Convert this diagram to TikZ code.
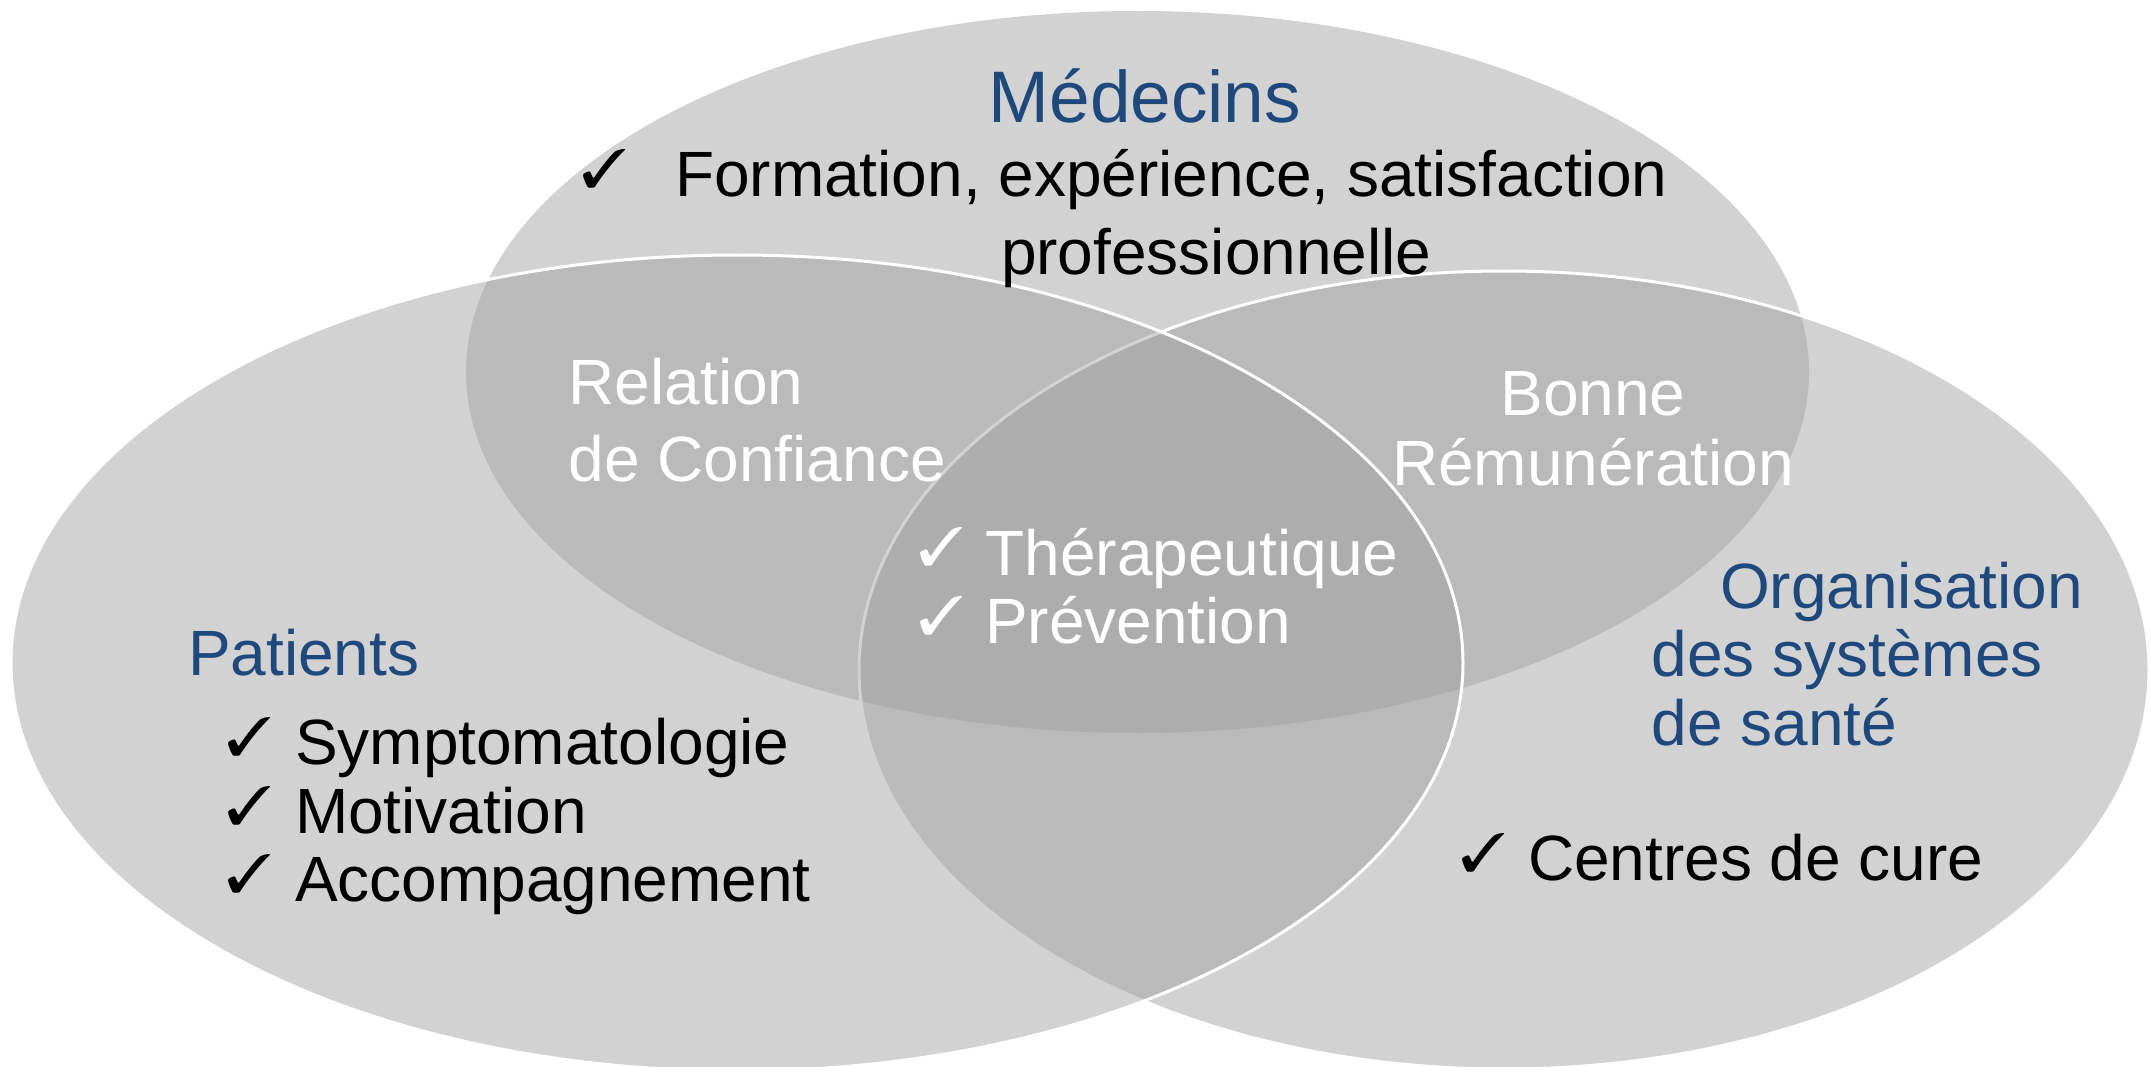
\documentclass[tikz,border=0pt]{standalone}
\usepackage{fontspec}
\setmainfont{Liberation Sans}
\usepackage{pifont}
\definecolor{titleblue}{HTML}{1F497D}
\newcommand{\ckmark}{{\fontsize{54}{54}\selectfont\scalebox{1.13}[1]{\ding{51}}}}
\begin{document}
\begin{tikzpicture}[x=1pt,y=-1pt,
  lbl/.style={inner sep=0pt, outer sep=0pt, anchor=base west, font=\fontsize{64}{70}\selectfont},
  ttl/.style={lbl, text=titleblue},
  ck/.style={inner sep=0pt, outer sep=0pt, anchor=base west},
  setfill/.style={fill=black!38, fill opacity=0.455},
  setline/.style={draw=white, line width=3pt, draw opacity=1},
  ]
\useasboundingbox (0,0) rectangle (2151,1067);
\fill[white] (0,0) rectangle (2151,1067);
% sets
\path[setfill] (1137.5,372) ellipse [x radius=671.5pt, y radius=361pt];
\path[setfill, setline] (1504,670) ellipse [x radius=645pt, y radius=399pt];
\path[setfill, setline] (737,663) ellipse [x radius=726pt, y radius=408pt];
% Medecins
\node[ttl, font=\fontsize{73}{80}\selectfont] (med) at (988.6,122.7) {Médecins};
\node[ck] (ckform) at (581,187.5) {\ckmark};
\node[lbl] (form) at (675,197) {Formation, expérience, satisfaction};
\node[lbl] (prof) at (1001,274) {professionnelle};
% Patients
\node[ttl] (pat) at (188,675) {Patients};
\node[ck] (ck1) at (226,755) {\ckmark};
\node[lbl] (sym) at (295,764) {Symptomatologie};
\node[ck] (ck2) at (226,824) {\ckmark};
\node[lbl] (mot) at (295,833.3) {Motivation};
\node[ck] (ck3) at (226,892.5) {\ckmark};
\node[lbl] (acc) at (295,901.7) {Accompagnement};
% intersections
\node[lbl, text=white] (rel) at (568.7,404) {Relation};
\node[lbl, text=white] (conf) at (568.6,481.7) {de Confiance};
\node[ck, text=white] (ck4) at (918,565.5) {\ckmark};
\node[lbl, text=white] (ther) at (985.5,575) {Thérapeutique};
\node[ck, text=white] (ck5) at (918,634) {\ckmark};
\node[lbl, text=white] (prev) at (985,643.3) {Prévention};
\node[lbl, text=white, anchor=base] (bon) at (1593,415) {Bonne};
\node[lbl, text=white, anchor=base] (rem) at (1593,485) {Rémunération};
% Organisation
\node[ttl] (org) at (1720,608.3) {Organisation};
\node[ttl] (sys) at (1651.6,676.7) {des systèmes};
\node[ttl] (san) at (1651.6,745) {de santé};
\node[ck] (ck6) at (1460,871) {\ckmark};
\node[lbl] (cure) at (1528,880.4) {Centres de cure};
\end{tikzpicture}
\end{document}
